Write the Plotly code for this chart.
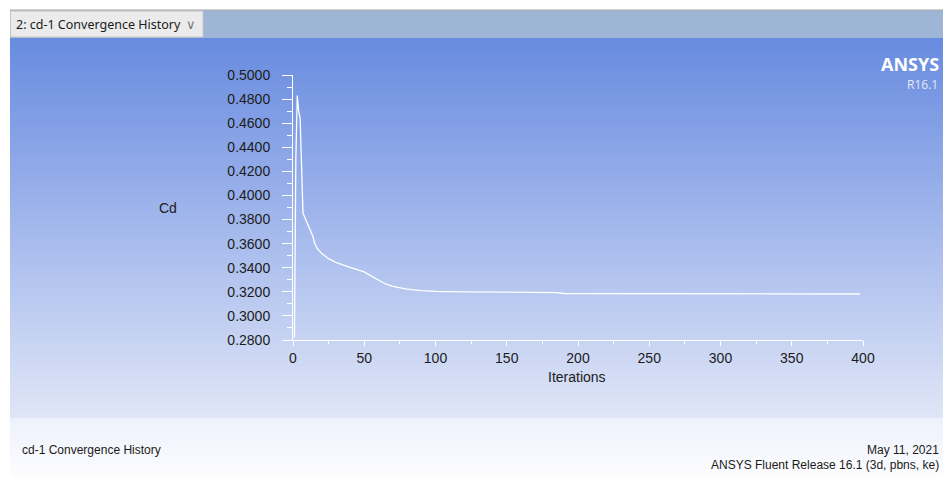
import plotly.graph_objects as go

# ---- data ----
iterations = [1, 2, 3, 4, 5, 6, 7, 8, 9, 10, 11, 12, 13, 14, 15, 17, 20, 25, 30,
              35, 40, 45, 50, 55, 60, 65, 70, 75, 80, 90, 100, 120, 150, 185,
              190, 250, 300, 350, 398]
cd_values = [0.2820, 0.4300, 0.4830, 0.4700, 0.4640, 0.4250, 0.3855, 0.3825,
             0.3795, 0.3770, 0.3740, 0.3715, 0.3690, 0.3660, 0.3610, 0.3560,
             0.3520, 0.3475, 0.3445, 0.3422, 0.3403, 0.3385, 0.3365, 0.3330,
             0.3295, 0.3265, 0.3245, 0.3232, 0.3223, 0.3210, 0.3203, 0.3200,
             0.3197, 0.3194, 0.3186, 0.3185, 0.3184, 0.3183, 0.3182]

x_range = [0, 400]
y_range = [0.28, 0.50]
x_title = "Iterations"
y_title = "Cd"
window_title = "2: cd-1 Convergence History"
footer_left = "cd-1 Convergence History"
footer_date = "May 11, 2021"
footer_release = "ANSYS Fluent Release 16.1 (3d, pbns, ke)"

W, H = 943, 478


def py(y):
    return 1 - y / H


def px(x):
    return x / W


def rgb(c):
    return "rgb(%d,%d,%d)" % c


fig = go.Figure()

# ---- background gradients (styling) on a hidden full-page subplot ----
grad_rows = 380
fig.add_trace(go.Heatmap(
    z=[[i / (grad_rows - 1)] for i in range(grad_rows)],
    x0=(10 + W) / 2, dx=W - 10, y0=38.5, dy=1,
    colorscale=[[0, rgb((104, 139, 224))], [0.5, rgb((163, 184, 236))],
                [1, rgb((224, 230, 247))]],
    zmin=0, zmax=1, showscale=False, hoverinfo="skip", xaxis="x", yaxis="y"))
foot_rows = 60
fig.add_trace(go.Heatmap(
    z=[[i / (foot_rows - 1)] for i in range(foot_rows)],
    x0=(10 + W) / 2, dx=W - 10, y0=418.5, dy=1,
    colorscale=[[0, rgb((237, 241, 251))], [1, rgb((253, 253, 255))]],
    zmin=0, zmax=1, showscale=False, hoverinfo="skip", xaxis="x", yaxis="y"))

# ---- the Cd curve ----
fig.add_trace(go.Scatter(x=iterations, y=cd_values, mode="lines",
                         line=dict(color="white", width=1.3), hoverinfo="skip",
                         showlegend=False, xaxis="x2", yaxis="y2"))

shapes = []
# toolbar strip
shapes.append(dict(type="rect", xref="paper", yref="paper", layer="below",
                   x0=px(10), x1=1, y0=py(38), y1=py(10),
                   fillcolor="#9fb5d5", line=dict(width=0)))
shapes.append(dict(type="line", xref="paper", yref="paper", layer="below",
                   x0=px(10), x1=1, y0=py(10), y1=py(10),
                   line=dict(color="#a8a8a8", width=1)))
# dropdown box
shapes.append(dict(type="rect", xref="paper", yref="paper", layer="below",
                   x0=px(10.5), x1=px(203), y0=py(37), y1=py(11),
                   fillcolor="#ebebeb", line=dict(color="#c4c4c4", width=1)))

tick_font = dict(family="Liberation Sans, Arial, sans-serif", size=14, color="#1c1c1c")

fig.update_layout(
    autosize=True,
    margin=dict(l=0, r=0, t=0, b=0, autoexpand=False),
    paper_bgcolor="white",
    plot_bgcolor="rgba(0,0,0,0)",
    shapes=shapes,
    xaxis=dict(domain=[0, 1], range=[0, W], visible=False, fixedrange=True),
    yaxis=dict(domain=[0, 1], range=[H, 0], visible=False, fixedrange=True),
    xaxis2=dict(domain=[px(293), px(863)], range=x_range, anchor="y2",
                showgrid=False, zeroline=False, showline=True, linecolor="white",
                linewidth=1, ticks="outside", tickcolor="white", ticklen=5,
                tickwidth=1, dtick=50, tick0=0, tickfont=tick_font,
                ticklabelstandoff=0,
                minor=dict(dtick=25, ticks="outside", ticklen=3,
                           tickcolor="white", showgrid=False)),
    yaxis2=dict(domain=[py(340), py(75)], range=y_range, anchor="x2",
                showgrid=False, zeroline=False, showline=True, linecolor="white",
                linewidth=1, ticks="outside", tickcolor="white", ticklen=10,
                tickwidth=1, dtick=0.02, tick0=0.28, tickformat=".4f",
                tickfont=tick_font, ticklabelstandoff=9,
                minor=dict(dtick=0.01, ticks="outside", ticklen=5,
                           tickcolor="white", showgrid=False)),
)

ann = []
ann.append(dict(text=y_title, x=px(168), y=py(208), xref="paper", yref="paper",
                showarrow=False, font=tick_font, xanchor="center", yanchor="middle"))
ann.append(dict(text=x_title, x=px(577), y=py(377), xref="paper", yref="paper",
                showarrow=False, font=tick_font, xanchor="center", yanchor="middle"))
ann.append(dict(text=window_title, x=px(14), y=py(24), xref="paper", yref="paper",
                showarrow=False, xanchor="left", yanchor="middle",
                font=dict(family="Noto Sans, Open Sans, sans-serif", size=12.5, color="#1a1a1a")))
ann.append(dict(text="\u2228", x=px(191), y=py(24), xref="paper", yref="paper",
                showarrow=False, xanchor="center", yanchor="middle",
                font=dict(family="DejaVu Sans", size=13, color="#7a7a7a")))
ann.append(dict(text="<b>ANSYS</b>", x=px(941), y=py(64), xref="paper", yref="paper",
                showarrow=False, xanchor="right", yanchor="middle",
                font=dict(family="Open Sans, Liberation Sans, sans-serif", size=18, color="white")))
ann.append(dict(text="R16.1", x=px(940), y=py(84), xref="paper", yref="paper",
                showarrow=False, xanchor="right", yanchor="middle",
                font=dict(family="Open Sans, Liberation Sans, sans-serif", size=12, color="#e4eaf8")))
foot_font = dict(family="Liberation Sans, Arial, sans-serif", size=12, color="#1a1a1a")
ann.append(dict(text=footer_left, x=px(20), y=py(450), xref="paper", yref="paper",
                showarrow=False, xanchor="left", yanchor="middle", font=foot_font))
ann.append(dict(text=footer_date, x=px(941), y=py(450), xref="paper", yref="paper",
                showarrow=False, xanchor="right", yanchor="middle", font=foot_font))
ann.append(dict(text=footer_release, x=px(941), y=py(465), xref="paper", yref="paper",
                showarrow=False, xanchor="right", yanchor="middle", font=foot_font))
fig.update_layout(annotations=ann)

fig.write_html("out.html",
               config={"displayModeBar": False, "responsive": True},
               default_width="100vw", default_height="100vh",
               post_script="document.documentElement.style.margin='0px';"
                           "document.body.style.margin='0px';"
                           "document.documentElement.style.overflow='hidden';"
                           "document.body.style.overflow='hidden';"
                           "window.dispatchEvent(new Event('resize'));")
